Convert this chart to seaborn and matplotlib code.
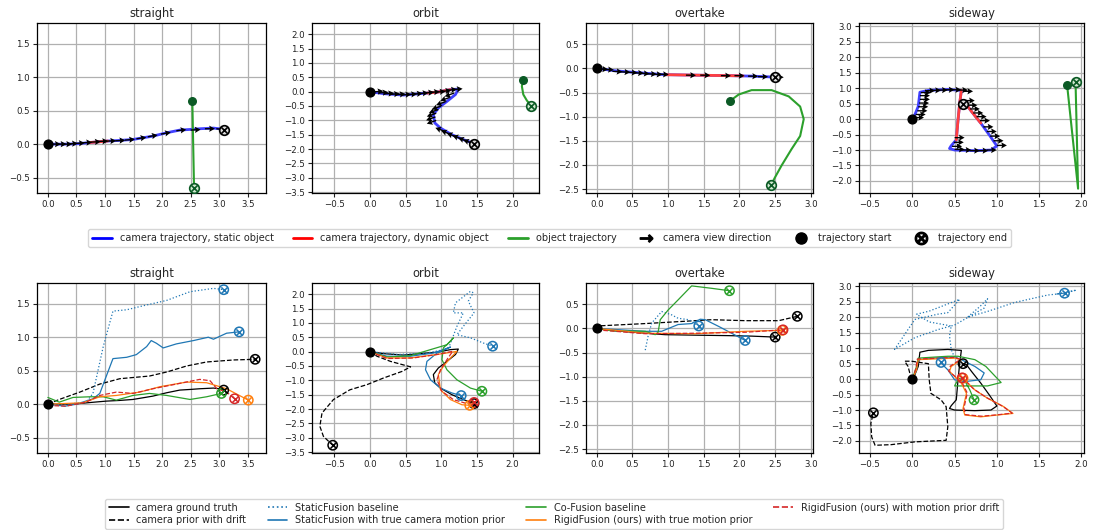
import numpy as np
import matplotlib
matplotlib.use("Agg")
import matplotlib.pyplot as plt
import seaborn as sns
from matplotlib.lines import Line2D
from matplotlib.ticker import MultipleLocator

# ── 스타일 ─────────────────────────────────────────────
sns.set_theme(style="ticks")
plt.rcParams['font.family'] = ['DejaVu Sans']
plt.rcParams['axes.edgecolor'] = 'black'
plt.rcParams['axes.linewidth'] = 0.9
plt.rcParams['grid.color'] = '#b0b0b0'
plt.rcParams['grid.linewidth'] = 0.9

# ── 데이터 ──────────────────────────────────────
titles = ['straight', 'orbit', 'overtake', 'sideway']

# straight
st_cam_x = [0.0, 0.3, 0.5, 0.75, 1.02, 1.25, 1.49, 1.7, 1.84, 2.08, 2.31, 2.5, 2.66, 2.9, 3.0, 3.08]
st_cam_y = [0.0, 0.0, 0.005, 0.025, 0.045, 0.055, 0.07, 0.1, 0.12, 0.17, 0.21, 0.22, 0.23, 0.24, 0.23, 0.21]
st_dyn_x = [0.72, 0.9, 1.05]
st_dyn_y = [0.024, 0.035, 0.047]
st_obj_x = [2.53, 2.56]
st_obj_y = [0.64, -0.66]
st_arr_x = [0.05, 0.15, 0.25, 0.35, 0.47, 0.6, 0.75, 0.88, 1.02, 1.18, 1.35, 1.55, 1.75, 1.98, 2.25, 2.5, 2.75, 2.95]
st_arr_y = [0.0, 0.0, 0.0, 0.005, 0.01, 0.02, 0.03, 0.04, 0.045, 0.05, 0.06, 0.08, 0.11, 0.15, 0.2, 0.21, 0.23, 0.23]
st_arr_a = [0, 0, 0, 2, 3, 3, 3, 2, 2, 3, 5, 8, 10, 10, 6, 3, 0, -5]

st_drift_x = [0.0, 0.2, 0.56, 0.91, 1.26, 1.78, 2.08, 2.43, 2.78, 3.25, 3.63]
st_drift_y = [0.0, 0.07, 0.18, 0.3, 0.38, 0.42, 0.48, 0.57, 0.63, 0.66, 0.67]
st_sfb_x = [0.0, 0.32, 0.67, 0.79, 0.97, 1.14, 1.38, 1.67, 2.08, 2.49, 2.9, 3.08]
st_sfb_y = [0.0, 0.0, 0.03, 0.16, 0.86, 1.39, 1.41, 1.47, 1.55, 1.68, 1.73, 1.71]
st_sfp_x = [0.0, 0.3, 0.5, 0.79, 0.91, 1.02, 1.14, 1.38, 1.55, 1.73, 1.81, 1.9, 2.02, 2.25, 2.55, 2.81, 2.9, 3.13, 3.35]
st_sfp_y = [0.0, -0.03, 0.0, 0.08, 0.16, 0.41, 0.68, 0.7, 0.74, 0.86, 0.95, 0.91, 0.84, 0.9, 0.95, 1.0, 0.97, 1.06, 1.08]
st_cf_x = [0.0, 0.2, 0.44, 0.73, 0.97, 1.2, 1.49, 1.78, 2.08, 2.49, 2.78, 3.04]
st_cf_y = [0.1, 0.03, 0.1, 0.11, 0.11, 0.06, 0.13, 0.16, 0.13, 0.07, 0.11, 0.16]
st_rfp_x = [0.0, 0.61, 0.91, 1.2, 1.61, 1.96, 2.43, 2.78, 3.13, 3.51]
st_rfp_y = [0.0, 0.02, 0.11, 0.13, 0.18, 0.26, 0.33, 0.32, 0.23, 0.06]
st_rfd_x = [0.0, 0.32, 0.67, 0.91, 1.2, 1.49, 1.84, 2.25, 2.66, 2.84, 2.96, 3.13, 3.27]
st_rfd_y = [-0.02, -0.03, 0.03, 0.13, 0.18, 0.16, 0.23, 0.3, 0.37, 0.35, 0.23, 0.18, 0.08]

# orbit
or_cam_x = [0.0, 0.19, 0.47, 0.71, 0.94, 1.13, 1.24, 1.2, 1.08, 0.96, 0.89, 0.91, 0.99, 1.15, 1.31, 1.46]
or_cam_y = [0.0, -0.07, -0.12, -0.07, -0.02, 0.07, 0.09, -0.1, -0.34, -0.57, -0.8, -1.09, -1.27, -1.5, -1.67, -1.81]
or_dyn_x = [0.8, 0.94, 1.13]
or_dyn_y = [-0.05, -0.02, 0.07]
or_obj_x = [2.15, 2.13, 2.15, 2.2, 2.26]
or_obj_y = [0.41, 0.19, -0.1, -0.31, -0.49]
or_arr_x = [0.05, 0.12, 0.2, 0.28, 0.36, 0.44, 0.52, 0.6, 0.68, 0.76, 0.84, 0.92, 1.0, 1.08, 1.16,
            1.18, 1.12, 1.06, 1.0, 0.96, 0.93, 0.92, 0.93,
            1.05, 1.13, 1.21, 1.29, 1.37, 1.44]
or_arr_y = [-0.01, -0.05, -0.08, -0.1, -0.11, -0.12, -0.11, -0.09, -0.07, -0.05, -0.03, -0.02, 0.01, 0.05, 0.07,
            -0.05, -0.2, -0.35, -0.5, -0.62, -0.75, -0.88, -1.0,
            -1.38, -1.48, -1.57, -1.65, -1.73, -1.8]
or_arr_a = [5, 5, 5, 5, 5, 5, 5, 5, 5, 5, 5, 5, 5, 5, 5,
            200, 200, 200, 200, 200, 200, 200, 200,
            160, 160, 160, 160, 160, 160]

or_drift_x = [0.0, 0.1, 0.29, 0.57, 0.45, 0.19, -0.04, -0.28, -0.51, -0.67, -0.7, -0.65, -0.52]
or_drift_y = [0.0, -0.16, -0.34, -0.53, -0.69, -0.92, -1.15, -1.33, -1.67, -2.14, -2.6, -2.95, -3.26]
or_sfb_x = [0.0, 0.4, 0.8, 1.1, 1.15, 1.22, 1.31, 1.17, 1.2, 1.41, 1.45, 1.38, 1.46, 1.31, 1.22, 1.41, 1.59, 1.72]
or_sfb_y = [0.0, -0.1, -0.05, 0.1, 0.42, 0.88, 1.35, 1.35, 1.7, 2.1, 2.05, 1.76, 1.35, 0.88, 0.59, 0.48, 0.3, 0.19]
or_sfp_x = [0.0, 0.24, 0.57, 0.89, 1.13, 0.94, 0.8, 0.78, 0.85, 0.99, 1.15, 1.28]
or_sfp_y = [0.0, -0.16, -0.16, -0.05, 0.16, -0.05, -0.34, -0.63, -0.98, -1.27, -1.44, -1.53]
or_cf_x = [0.0, 0.24, 0.57, 0.85, 1.08, 1.17, 1.13, 1.03, 1.01, 1.08, 1.22, 1.41, 1.57]
or_cf_y = [0.0, -0.19, -0.14, 0.07, 0.24, 0.48, 0.36, 0.13, -0.28, -0.63, -0.98, -1.27, -1.38]
or_rfp_x = [0.0, 0.24, 0.57, 0.94, 1.22, 1.13, 1.03, 0.96, 0.99, 1.13, 1.29, 1.4]
or_rfp_y = [0.0, -0.22, -0.22, -0.1, 0.01, -0.22, -0.51, -0.8, -1.33, -1.67, -1.85, -1.87]
or_rfd_x = [0.0, 0.24, 0.61, 0.94, 1.16, 1.08, 0.99, 0.94, 1.01, 1.17, 1.36, 1.46]
or_rfd_y = [0.0, -0.24, -0.22, -0.1, 0.01, -0.28, -0.63, -0.98, -1.38, -1.67, -1.81, -1.77]

# overtake
ov_cam_x = [0.0, 0.26, 0.68, 0.96, 1.38, 1.85, 2.17, 2.5]
ov_cam_y = [0.0, -0.05, -0.1, -0.13, -0.14, -0.15, -0.16, -0.18]
ov_dyn_x = [0.96, 1.38, 1.85, 2.05]
ov_dyn_y = [-0.13, -0.14, -0.15, -0.155]
ov_obj_x = [1.87, 1.99, 2.17, 2.45, 2.69, 2.85, 2.9, 2.85, 2.73, 2.59, 2.5, 2.44]
ov_obj_y = [-0.67, -0.54, -0.45, -0.45, -0.58, -0.79, -1.05, -1.4, -1.67, -2.01, -2.25, -2.42]
ov_arr_x = [0.02, 0.1, 0.22, 0.33, 0.43, 0.52, 0.6, 0.7, 0.78, 0.87, 1.25, 1.45, 1.74, 1.93, 2.12, 2.26, 2.48]
ov_arr_y = [-0.01, -0.02, -0.06, -0.07, -0.08, -0.09, -0.1, -0.11, -0.12, -0.12, -0.14, -0.14, -0.15, -0.15, -0.16, -0.17, -0.18]
ov_arr_a = [-3, -3, -3, -3, -3, -3, -3, -3, -2, -2, -1, -1, -1, -1, -1, -1, -1]

ov_drift_x = [0.0, 0.0, 0.68, 1.38, 1.61, 2.08, 2.55, 2.81]
ov_drift_y = [0.0, 0.05, 0.1, 0.16, 0.18, 0.16, 0.16, 0.25]
ov_sfb_x = [0.68, 0.72, 0.77, 0.91, 1.05, 1.14, 1.29, 1.43]
ov_sfb_y = [-0.45, -0.16, 0.11, 0.35, 0.28, 0.21, 0.18, 0.05]
ov_sfp_x = [0.0, 0.68, 0.91, 1.14, 1.33, 1.45, 1.52, 1.71, 1.89, 2.08]
ov_sfp_y = [0.0, -0.06, -0.06, 0.08, 0.1, 0.19, 0.18, 0.04, -0.1, -0.25]
ov_cf_x = [0.0, 0.21, 0.68, 0.82, 0.86, 0.89, 1.0, 1.14, 1.33, 1.61, 1.86]
ov_cf_y = [0.0, -0.05, -0.06, -0.13, -0.08, 0.18, 0.38, 0.59, 0.88, 0.83, 0.78]
ov_rfp_x = [0.0, 0.68, 1.38, 2.08, 2.6]
ov_rfp_y = [0.0, -0.1, -0.11, -0.06, -0.04]
ov_rfd_x = [0.0, 0.68, 1.38, 2.08, 2.61]
ov_rfd_y = [-0.03, -0.11, -0.1, -0.08, -0.03]

# sideway
sw_cam_x = [0.0, 0.03, 0.07, 0.09, 0.19, 0.42, 0.58, 0.56, 0.54, 0.52, 0.46, 0.44, 0.5, 0.74, 0.93, 1.0, 0.91, 0.81, 0.7, 0.64, 0.6]
sw_cam_y = [0.0, 0.14, 0.41, 0.87, 0.93, 0.96, 0.93, 0.5, -0.05, -0.67, -0.86, -0.95, -1.0, -1.02, -1.0, -0.87, -0.51, -0.13, 0.25, 0.47, 0.5]
sw_dyn1_x = [0.58, 0.56, 0.54, 0.52]
sw_dyn1_y = [0.93, 0.5, -0.05, -0.67]
sw_dyn2_x = [0.81, 0.7, 0.64, 0.6]
sw_dyn2_y = [-0.13, 0.25, 0.47, 0.5]
sw_obj_x = [1.83, 1.96, 1.93]
sw_obj_y = [1.11, -2.25, 1.2]
sw_arr_x = [0.02, 0.04, 0.06, 0.07, 0.08, 0.09, 0.09, 0.1,
            0.15, 0.22, 0.3, 0.38, 0.46, 0.54, 0.6,
            0.62, 0.65, 0.68, 0.72, 0.76, 0.8,
            0.84, 0.88, 0.92, 0.96, 1.0,
            0.5, 0.58, 0.68, 0.78, 0.88,
            0.5, 0.49, 0.47]
sw_arr_y = [0.05, 0.15, 0.27, 0.4, 0.52, 0.64, 0.76, 0.86,
            0.92, 0.93, 0.94, 0.95, 0.95, 0.94, 0.9,
            0.6, 0.45, 0.33, 0.2, 0.08, -0.05,
            -0.25, -0.4, -0.55, -0.7, -0.85,
            -0.98, -1.0, -1.02, -1.02, -1.0,
            -0.6, -0.75, -0.88]
sw_arr_a = [0, 0, 0, 0, 0, 0, 0, 0,
            0, 0, 0, 0, 0, 0, 0,
            0, 0, 0, 0, 0, 0,
            0, 0, 0, 0, 0,
            0, 0, 0, 0, 0,
            0, 0, 0]

sw_drift_x = [0.0, -0.03, -0.05, -0.09, -0.01, 0.19, 0.2, 0.22, 0.34, 0.4, 0.42, 0.4, 0.03, -0.25, -0.44, -0.48, -0.49, -0.46]
sw_drift_y = [0.0, 0.2, 0.41, 0.58, 0.58, 0.5, -0.02, -0.46, -0.67, -0.89, -1.54, -1.98, -2.03, -2.12, -2.14, -1.87, -1.43, -1.09]
sw_sfb_x = [0.5, 0.46, 0.44, 0.46, 0.2, 0.05, 0.2, 0.56, 0.42, 0.3, 0.03, -0.21, 0.03, 0.3, 0.5, 0.85, 0.89, 0.8, 0.65, 0.9, 1.21, 1.6, 1.8, 1.94, 1.7, 1.8]
sw_sfb_y = [0.7, 0.96, 1.4, 1.72, 1.85, 2.1, 2.2, 2.58, 2.15, 2.1, 1.93, 0.96, 1.34, 1.6, 1.75, 2.3, 2.6, 2.35, 2.0, 2.2, 2.48, 2.72, 2.78, 2.88, 2.75, 2.78]
sw_sfp_x = [0.0, 0.05, 0.07, 0.26, 0.5, 0.58, 0.74, 0.85, 0.81, 0.62, 0.5, 0.46, 0.42, 0.38, 0.34]
sw_sfp_y = [0.0, 0.3, 0.63, 0.68, 0.72, 0.63, 0.41, 0.2, -0.02, -0.08, -0.02, 0.14, 0.3, 0.41, 0.54]
sw_cf_x = [0.0, 0.05, 0.07, 0.42, 0.54, 0.74, 0.87, 1.05, 0.89, 0.7, 0.5, 0.55, 0.62, 0.68, 0.73]
sw_cf_y = [0.0, 0.41, 0.68, 0.74, 0.74, 0.63, 0.41, -0.11, -0.22, -0.22, -0.22, 0.03, -0.05, -0.35, -0.67]
sw_rfp_x = [0.0, 0.05, 0.07, 0.5, 0.58, 0.46, 0.44, 0.5, 0.58, 0.64, 0.6, 0.62, 0.81, 1.01, 1.19, 1.08, 0.89, 0.74, 0.64, 0.6]
sw_rfp_y = [0.0, 0.3, 0.63, 0.68, 0.63, 0.41, 0.25, 0.09, -0.13, -0.46, -0.95, -1.16, -1.22, -1.16, -1.11, -0.89, -0.62, -0.35, -0.08, 0.03]
sw_rfd_x = [0.0, 0.04, 0.06, 0.5, 0.57, 0.45, 0.43, 0.5, 0.59, 0.65, 0.61, 0.63, 0.82, 1.02, 1.18, 1.07, 0.88, 0.73, 0.63, 0.59]
sw_rfd_y = [0.0, 0.32, 0.65, 0.7, 0.64, 0.42, 0.26, 0.1, -0.12, -0.45, -0.94, -1.15, -1.2, -1.15, -1.1, -0.88, -0.6, -0.33, -0.06, 0.04]

# 축 범위
xlims = [(-0.19, 3.82), (-0.81, 2.37), (-0.15, 3.03), (-0.63, 2.03)]
ylims = [(-0.73, 1.81), (-3.53, 2.39), (-2.58, 0.94), (-2.39, 3.11)]

top_data = [
    (st_cam_x, st_cam_y, [(st_dyn_x, st_dyn_y)], st_obj_x, st_obj_y, st_arr_x, st_arr_y, st_arr_a),
    (or_cam_x, or_cam_y, [(or_dyn_x, or_dyn_y)], or_obj_x, or_obj_y, or_arr_x, or_arr_y, or_arr_a),
    (ov_cam_x, ov_cam_y, [(ov_dyn_x, ov_dyn_y)], ov_obj_x, ov_obj_y, ov_arr_x, ov_arr_y, ov_arr_a),
    (sw_cam_x, sw_cam_y, [(sw_dyn1_x, sw_dyn1_y), (sw_dyn2_x, sw_dyn2_y)], sw_obj_x, sw_obj_y, sw_arr_x, sw_arr_y, sw_arr_a),
]
bottom_data = [
    dict(gt=(st_cam_x, st_cam_y), drift=(st_drift_x, st_drift_y), sfb=(st_sfb_x, st_sfb_y),
         sfp=(st_sfp_x, st_sfp_y), cf=(st_cf_x, st_cf_y), rfp=(st_rfp_x, st_rfp_y), rfd=(st_rfd_x, st_rfd_y)),
    dict(gt=(or_cam_x, or_cam_y), drift=(or_drift_x, or_drift_y), sfb=(or_sfb_x, or_sfb_y),
         sfp=(or_sfp_x, or_sfp_y), cf=(or_cf_x, or_cf_y), rfp=(or_rfp_x, or_rfp_y), rfd=(or_rfd_x, or_rfd_y)),
    dict(gt=(ov_cam_x, ov_cam_y), drift=(ov_drift_x, ov_drift_y), sfb=(ov_sfb_x, ov_sfb_y),
         sfp=(ov_sfp_x, ov_sfp_y), cf=(ov_cf_x, ov_cf_y), rfp=(ov_rfp_x, ov_rfp_y), rfd=(ov_rfd_x, ov_rfd_y)),
    dict(gt=(sw_cam_x, sw_cam_y), drift=(sw_drift_x, sw_drift_y), sfb=(sw_sfb_x, sw_sfb_y),
         sfp=(sw_sfp_x, sw_sfp_y), cf=(sw_cf_x, sw_cf_y), rfp=(sw_rfp_x, sw_rfp_y), rfd=(sw_rfd_x, sw_rfd_y)),
]

# 방법별 스타일
methods = [
    ('gt', 'camera ground truth', 'black', '-'),
    ('drift', 'camera prior with drift', 'black', '--'),
    ('sfb', 'StaticFusion baseline', '#1f77b4', ':'),
    ('sfp', 'StaticFusion with true camera motion prior', '#1f77b4', '-'),
    ('cf', 'Co-Fusion baseline', '#2ca02c', '-'),
    ('rfp', 'RigidFusion (ours) with true motion prior', '#ff7f0e', '-'),
    ('rfd', 'RigidFusion (ours) with motion prior drift', '#d62728', '--'),
]

CAM_BLUE = '#4040ff'
CAM_RED = '#ff4040'
OBJ_GREEN = '#2ca02c'
OBJ_DARK = '#0b5a25'


def draw_path(ax, xs, ys, **kw):
    sns.lineplot(x=xs, y=ys, sort=False, estimator=None, ax=ax, **kw)


def end_marker(ax, x, y, color, size=48, lw=1.2, face='none'):
    ax.scatter([x], [y], s=size, marker='o', facecolors=face, edgecolors=color, linewidths=lw, zorder=6)
    ax.scatter([x], [y], s=size * 0.45, marker='x', color=color, linewidths=lw, zorder=7)


def style_axes(ax, col):
    ax.set_xlim(*xlims[col])
    ax.set_ylim(*ylims[col])
    ax.xaxis.set_major_locator(MultipleLocator(0.5))
    ax.yaxis.set_major_locator(MultipleLocator(0.5))
    ax.grid(True, color='#b0b0b0', lw=0.9)
    ax.set_axisbelow(True)
    ax.tick_params(labelsize=6.2, length=3, width=0.8, pad=2, colors='#222222')
    ax.set_title(titles[col], fontsize=8.3, pad=4)
    ax.set_xlabel('')
    ax.set_ylabel('')


# ── 그림 ──────────────────────────────────────────────
fig = plt.figure(figsize=(10.93, 5.30), dpi=100)

lefts = [37, 312, 586, 859]
rights = [266, 539, 813, 1084]
W, H = 1093, 530

for col in range(4):
    l = lefts[col] / W
    w = (rights[col] - lefts[col]) / W

    # 위쪽 행: 시뮬레이션 궤적
    ax = fig.add_axes([l, 1 - 193 / H, w, 170 / H])
    cx, cy, dyn, ox, oy, axx, ayy, aa = top_data[col]
    draw_path(ax, cx, cy, color=CAM_BLUE, lw=2)
    for dx, dy in dyn:
        draw_path(ax, dx, dy, color=CAM_RED, lw=2)
    draw_path(ax, ox, oy, color=OBJ_GREEN, lw=1.5)
    ang = np.radians(aa)
    ax.quiver(axx, ayy, np.cos(ang), np.sin(ang), angles='uv', scale_units='inches', scale=10,
              width=0.006, headwidth=4.6, headlength=4.2, headaxislength=3.6, color='black', zorder=5)
    ax.scatter([cx[0]], [cy[0]], s=40, color='black', zorder=8)
    ax.scatter([ox[0]], [oy[0]], s=30, color=OBJ_DARK, zorder=8)
    end_marker(ax, cx[-1], cy[-1], 'black', face='#dddddd')
    end_marker(ax, ox[-1], oy[-1], OBJ_DARK, face='#cfe8cf')
    style_axes(ax, col)

    # 아래쪽 행: 방법 비교
    ax2 = fig.add_axes([l, 1 - 453 / H, w, 170 / H])
    d = bottom_data[col]
    for key, name, color, ls in methods:
        xs, ys = d[key]
        draw_path(ax2, xs, ys, color=color, lw=0.9, linestyle=ls)
    for key, name, color, ls in methods:
        xs, ys = d[key]
        end_marker(ax2, xs[-1], ys[-1], color, size=45, lw=1.1)
    ax2.scatter([0.0], [0.0], s=40, color='black', zorder=8)
    style_axes(ax2, col)

# ── 범례 ──────────────────────────────────────────────
top_handles = [
    Line2D([], [], color='blue', lw=2),
    Line2D([], [], color='red', lw=2),
    Line2D([], [], color=OBJ_GREEN, lw=2),
    Line2D([], [], color='black', marker=r'$\rightarrow$', ls='None', markersize=9),
    Line2D([], [], color='black', marker='o', ls='None', markersize=8),
    Line2D([], [], color='black', marker=r'$\otimes$', ls='None', markersize=9),
]
top_labels = ['camera trajectory, static object', 'camera trajectory, dynamic object',
              'object trajectory', 'camera view direction', 'trajectory start', 'trajectory end']
fig.legend(top_handles, top_labels, loc='center', bbox_to_anchor=(0.503, 1 - 238 / H), ncol=6,
           fontsize=7, frameon=True, handlelength=2.0, columnspacing=2.0)

bottom_handles = [Line2D([], [], color=c, lw=1.2, linestyle=ls) for _, _, c, ls in methods]
bottom_labels = [name for _, name, _, _ in methods]
fig.legend(bottom_handles, bottom_labels, loc='center', bbox_to_anchor=(0.507, 1 - 514 / H), ncol=4,
           fontsize=7, frameon=True, handlelength=2.0, columnspacing=2.2, labelspacing=0.3)

fig.savefig('out.png', dpi=100)
